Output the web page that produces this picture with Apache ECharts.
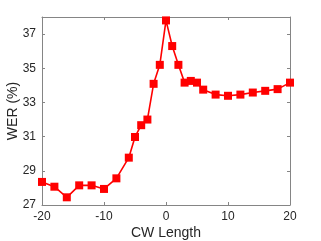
<!DOCTYPE html>
<html><head><meta charset="utf-8">
<script src="https://cdn.jsdelivr.net/npm/echarts@6/dist/echarts.min.js"></script>
<style>html,body{margin:0;padding:0;background:#fff}#c{width:321px;height:241px}</style>
</head><body><div id="c"></div>
<script>
const cwLength = [-20,-18,-16,-14,-12,-10,-8,-6,-5,-4,-3,-2,-1,0,1,2,3,4,5,6,8,10,12,14,16,18,20];
const wer = [28.35,28.07,27.45,28.15,28.15,27.94,28.56,29.77,30.98,31.67,32.0,34.09,35.2,37.8,36.3,35.2,34.16,34.26,34.16,33.75,33.46,33.39,33.46,33.58,33.68,33.78,34.16];
const xTicks = [-20,-10,0,10,20];
const yTicks = [27,29,31,33,35,37];

const axisLine = {show:true, onZero:false, lineStyle:{color:'#858585', width:1}};
const font = 'Liberation Sans';
const chart = echarts.init(document.getElementById('c'), null, {renderer:'canvas'});
chart.setOption({
  animation:false,
  grid:{left:42, right:31, top:17, bottom:36, containLabel:false, outerBoundsMode:'none'},
  xAxis:[{
    type:'value', min:-20, max:20, interval:10,
    name:'CW Length', nameLocation:'middle', nameGap:21, nameMoveOverlap:false,
    nameTextStyle:{fontFamily:font, fontSize:14, color:'#262626'},
    axisLine:axisLine, axisTick:{inside:true, length:3, lineStyle:{color:'#858585'}},
    axisLabel:{fontFamily:font, fontSize:12, color:'#262626', margin:6,
      formatter:v => xTicks.includes(v) ? String(v) : ''},
    splitLine:{show:false}
  },{
    type:'value', position:'top', min:-20, max:20, interval:10,
    axisLine:axisLine, axisTick:{inside:true, length:3, lineStyle:{color:'#858585'}},
    axisLabel:{show:false}, splitLine:{show:false}
  }],
  yAxis:[{
    type:'value', min:27, max:38, interval:2, position:'left',
    name:'WER (%)', nameLocation:'middle', nameGap:22, nameMoveOverlap:false,
    nameTextStyle:{fontFamily:font, fontSize:14, color:'#262626'},
    axisLine:axisLine, axisTick:{inside:true, length:3, lineStyle:{color:'#858585'}},
    axisLabel:{fontFamily:font, fontSize:12, color:'#262626', margin:6, showMaxLabel:false,
      formatter:v => yTicks.includes(v) ? String(v) : ''},
    splitLine:{show:false}
  },{
    type:'value', position:'right', min:27, max:38, interval:2,
    axisLine:axisLine, axisTick:{inside:true, length:3, lineStyle:{color:'#858585'}},
    axisLabel:{show:false}, splitLine:{show:false}
  }],
  series:[{
    type:'line',
    data: cwLength.map((x,i)=>[x, wer[i]]),
    symbol:'rect', symbolSize:8,
    itemStyle:{color:'#ff0000'},
    lineStyle:{color:'#ff0000', width:1.6},
    clip:false
  }]
});
</script></body></html>
